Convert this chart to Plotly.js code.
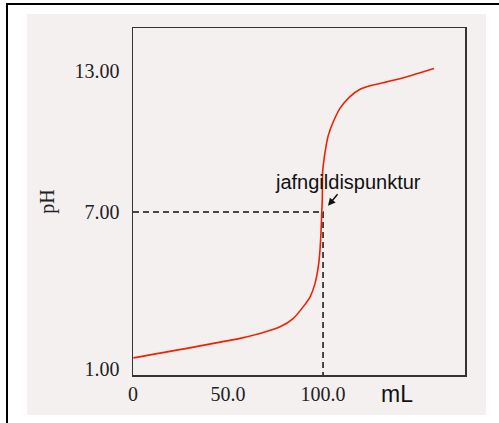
<!DOCTYPE html>
<html><head><meta charset="utf-8">
<script src="https://cdn.plot.ly/plotly-3.0.1.min.js"></script>
<style>
html,body{margin:0;padding:0;width:499px;height:423px;overflow:hidden;background:#fff;}
#frame{position:absolute;left:6px;top:3px;width:520px;height:450px;border-left:2.5px solid #000;border-top:2.5px solid #000;}
#chart{position:absolute;left:27px;top:14px;width:459px;height:401px;}
</style></head>
<body>
<div id="frame"></div>
<div id="chart"></div>
<script>
// Titration curve (volume mL, pH)
const volume = [0.2, 56.3, 66.8, 77.4, 84.4, 89.6, 93.2, 95.8, 97.5, 98.4, 98.9, 99.3, 99.6, 99.8, 101.1, 102.8, 105.4, 108.9, 114.2, 119.5, 124.7, 131.7, 142.3, 151.1, 158.4];
const pH     = [0.79, 1.62, 1.83, 2.11, 2.47, 2.97, 3.39, 3.96, 4.67, 5.38, 6.09, 6.94, 7.51, 8.71, 9.56, 10.27, 10.84, 11.41, 11.91, 12.22, 12.37, 12.50, 12.71, 12.93, 13.11];
const equivX = [0, 100, 100];
const equivY = [7, 7, 0.06];
const yTickVals = [0.32, 7, 13];
const yTickText = ['1.00', '7.00', '13.00'];
const xTickVals = [0, 50, 100];
const xTickText = ['0', '50.0', '100.0'];
const label = 'jafngildispunktur';

const traces = [
  {x: equivX, y: equivY, mode: 'lines', line: {color: '#111', width: 1.5, dash: '6px,4px'}, hoverinfo: 'skip'},
  {x: volume, y: pH, mode: 'lines', line: {color: '#ee2200', width: 1.6, shape: 'spline', smoothing: 0.6}}
];
const layout = {
  width: 459, height: 401,
  margin: {l: 106, r: 21, t: 14, b: 40},
  paper_bgcolor: '#f4f0f0', plot_bgcolor: '#f4f0f0',
  showlegend: false,
  xaxis: {range: [0, 174.7], showgrid: false, zeroline: false,
    tickvals: xTickVals, ticktext: xTickText, ticks: '', showline: true, mirror: true,
    linecolor: '#333', linewidth: 1.5,
    tickfont: {family: 'Liberation Serif', size: 20, color: '#222'}},
  yaxis: {range: [0.06, 14.83], showgrid: false, zeroline: false,
    tickvals: yTickVals, ticktext: yTickText, ticks: '', showline: true, mirror: true,
    linecolor: '#333', linewidth: 1.5, ticklabelstandoff: 8,
    tickfont: {family: 'Liberation Serif', size: 20, color: '#222'},
    title: {text: 'pH', font: {family: 'Liberation Serif', size: 20, color: '#222'}, standoff: 14}},
  annotations: [
    {x: 102.6, y: 7.26, ax: 20, ay: -24, text: label, showarrow: true, arrowhead: 2, arrowsize: 1, arrowwidth: 1.5, arrowcolor: '#111',
     font: {family: 'Liberation Sans', size: 20, color: '#111'}},
    {x: 139, y: 0.06, xref: 'x', yref: 'y', yshift: -19, text: 'mL', showarrow: false,
     font: {family: 'Liberation Sans', size: 23, color: '#111'}}
  ]
};
Plotly.newPlot('chart', traces, layout, {displayModeBar: false, staticPlot: true});
</script>
</body></html>
